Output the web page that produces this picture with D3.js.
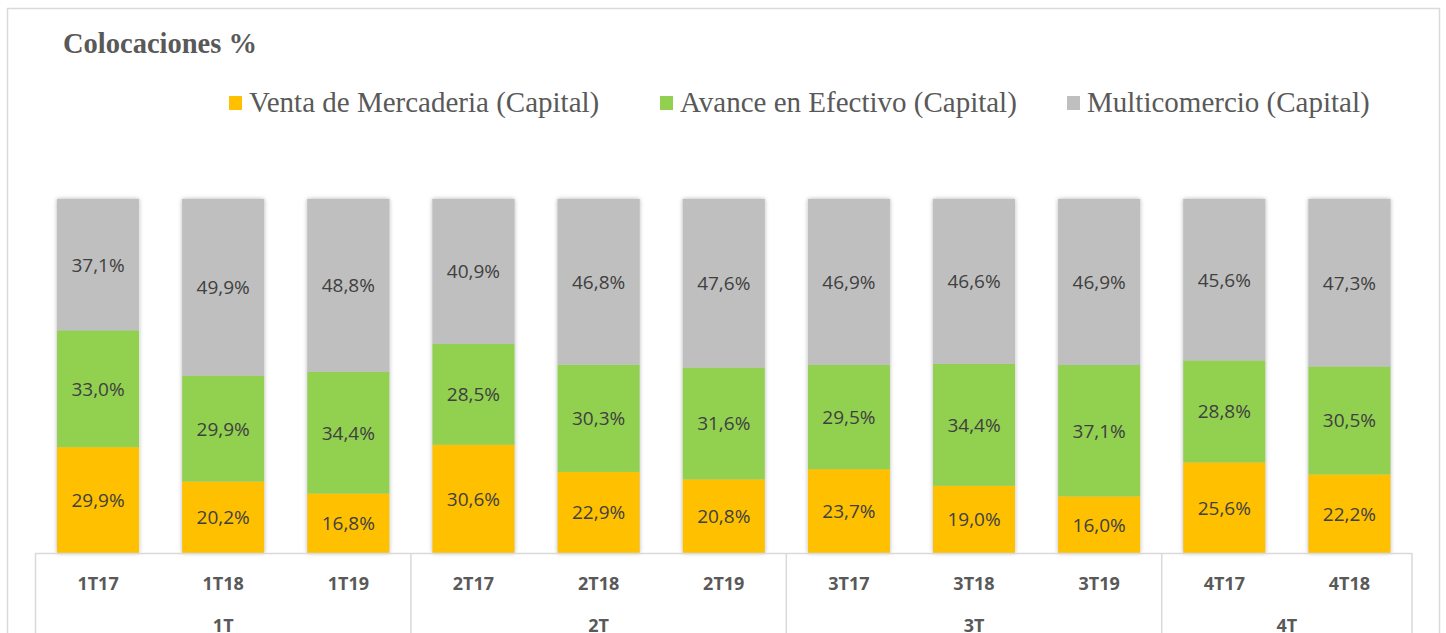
<!DOCTYPE html>
<html><head><meta charset="utf-8">
<script src="https://cdn.jsdelivr.net/npm/d3@7"></script>
<style>html,body{margin:0;padding:0;background:#fff;}svg{display:block;}</style>
</head><body>
<svg id="c" width="1446" height="633"></svg>
<script>
const categories = ["1T17","1T18","1T19","2T17","2T18","2T19","3T17","3T18","3T19","4T17","4T18"];
const groups = ["1T","1T","1T","2T","2T","2T","3T","3T","3T","4T","4T"];
const seriesNames = ["Venta de Mercaderia (Capital)","Avance en Efectivo (Capital)","Multicomercio (Capital)"];
const ventaMercaderia = [29.9,20.2,16.8,30.6,22.9,20.8,23.7,19.0,16.0,25.6,22.2];
const avanceEfectivo = [33.0,29.9,34.4,28.5,30.3,31.6,29.5,34.4,37.1,28.8,30.5];
const multicomercio = [37.1,49.9,48.8,40.9,46.8,47.6,46.9,46.6,46.9,45.6,47.3];
const colors = ["#FFC000","#92D050","#BFBFBF"];

const svg = d3.select("#c");
// outer frame
svg.append("rect").attr("x",7.5).attr("y",8.5).attr("width",1432).attr("height",640)
  .attr("fill","#fff").attr("stroke","#d9d9d9").attr("stroke-width",1.5);

// title
svg.append("text").attr("x",63).attr("y",53).text("Colocaciones %")
  .attr("font-family","Liberation Serif").attr("font-weight","bold").attr("font-size",28.5).attr("fill","#595959");

// data table
const rows = categories.map((c,i)=>({cat:c, grp:groups[i], s0:ventaMercaderia[i], s1:avanceEfectivo[i], s2:multicomercio[i]}));
const keys = ["s0","s1","s2"];
const stack = d3.stack().keys(keys).offset(d3.stackOffsetExpand);
const stacked = stack(rows);
const valArrays = [ventaMercaderia, avanceEfectivo, multicomercio];

const x = d3.scaleBand().domain(categories).range([35.5,1412]).paddingInner(0.345).paddingOuter(0.1725);
const y = d3.scaleLinear().domain([0,1]).range([553,199]);

const defs = svg.append("defs");
const f = defs.append("filter").attr("id","sh").attr("x","-20%").attr("y","-20%").attr("width","140%").attr("height","140%");
f.append("feDropShadow").attr("dx",0).attr("dy",0).attr("stdDeviation",2.2).attr("flood-color","#000").attr("flood-opacity",0.3);

const barG = svg.append("g");
barG.selectAll("rect.bg").data(rows).join("rect").attr("class","bg")
  .attr("x",d=>x(d.cat)).attr("width",x.bandwidth()).attr("y",y(1)).attr("height",y(0)-y(1))
  .attr("fill","#ccc").attr("filter","url(#sh)");

stacked.forEach((layer,si)=>{
  barG.selectAll("rect.s"+si).data(layer).join("rect").attr("class","s"+si)
    .attr("x",d=>x(d.data.cat)).attr("width",x.bandwidth())
    .attr("y",d=>y(d[1])).attr("height",d=>y(d[0])-y(d[1]))
    .attr("fill",colors[si]);
  barG.selectAll("text.l"+si).data(layer).join("text").attr("class","l"+si)
    .attr("x",d=>x(d.data.cat)+x.bandwidth()/2)
    .attr("y",d=>(y(d[0])+y(d[1]))/2)
    .attr("text-anchor","middle").attr("dominant-baseline","central")
    .attr("font-family","Open Sans").attr("font-size",19).attr("fill","#404040")
    .text((d,i)=>d3.format(".1f")(valArrays[si][i]).replace(".",",")+"%");
});

// category axis with group boxes
const axG = svg.append("g");
const axisLine = "#d9d9d9";
const x0 = x.range()[0], x1 = x.range()[1];
axG.append("line").attr("x1",x0).attr("x2",x1).attr("y1",553.5).attr("y2",553.5).attr("stroke",axisLine).attr("stroke-width",1.5);
const groupNames = Array.from(new Set(groups));
const step = x.step();
const grpBounds = groupNames.map(g=>{
  const idx = groups.map((gg,i)=>gg===g?i:-1).filter(i=>i>=0);
  const left = x(categories[idx[0]]) - step*x.paddingInner()/2;
  const right = x(categories[idx[idx.length-1]]) + x.bandwidth() + step*x.paddingInner()/2;
  return {g,left,right};
});
const seps = [x0, ...grpBounds.slice(0,-1).map(b=>b.right), x1];
axG.selectAll("line.sep").data(seps).join("line").attr("class","sep")
  .attr("x1",d=>d).attr("x2",d=>d).attr("y1",553).attr("y2",640).attr("stroke",axisLine).attr("stroke-width",1.5);

axG.selectAll("text.cat").data(categories).join("text").attr("class","cat")
  .attr("x",d=>x(d)+x.bandwidth()/2).attr("y",583).attr("text-anchor","middle").attr("dominant-baseline","central")
  .attr("font-family","Open Sans").attr("font-weight","bold").attr("font-size",18).attr("fill","#595959").text(d=>d);
axG.selectAll("text.grp").data(grpBounds).join("text").attr("class","grp")
  .attr("x",d=>(d.left+d.right)/2).attr("y",625).attr("text-anchor","middle").attr("dominant-baseline","central")
  .attr("font-family","Open Sans").attr("font-weight","bold").attr("font-size",18).attr("fill","#595959").text(d=>d.g);

// legend
const legX = [229, 660, 1067];
const leg = svg.append("g");
seriesNames.forEach((n,i)=>{
  leg.append("rect").attr("x",legX[i]).attr("y",96).attr("width",13).attr("height",14).attr("fill",colors[i]);
  leg.append("text").attr("x",legX[i]+20).attr("y",112).text(n)
    .attr("font-family","Liberation Serif").attr("font-size",29).attr("fill","#595959");
});
</script>
</body></html>
